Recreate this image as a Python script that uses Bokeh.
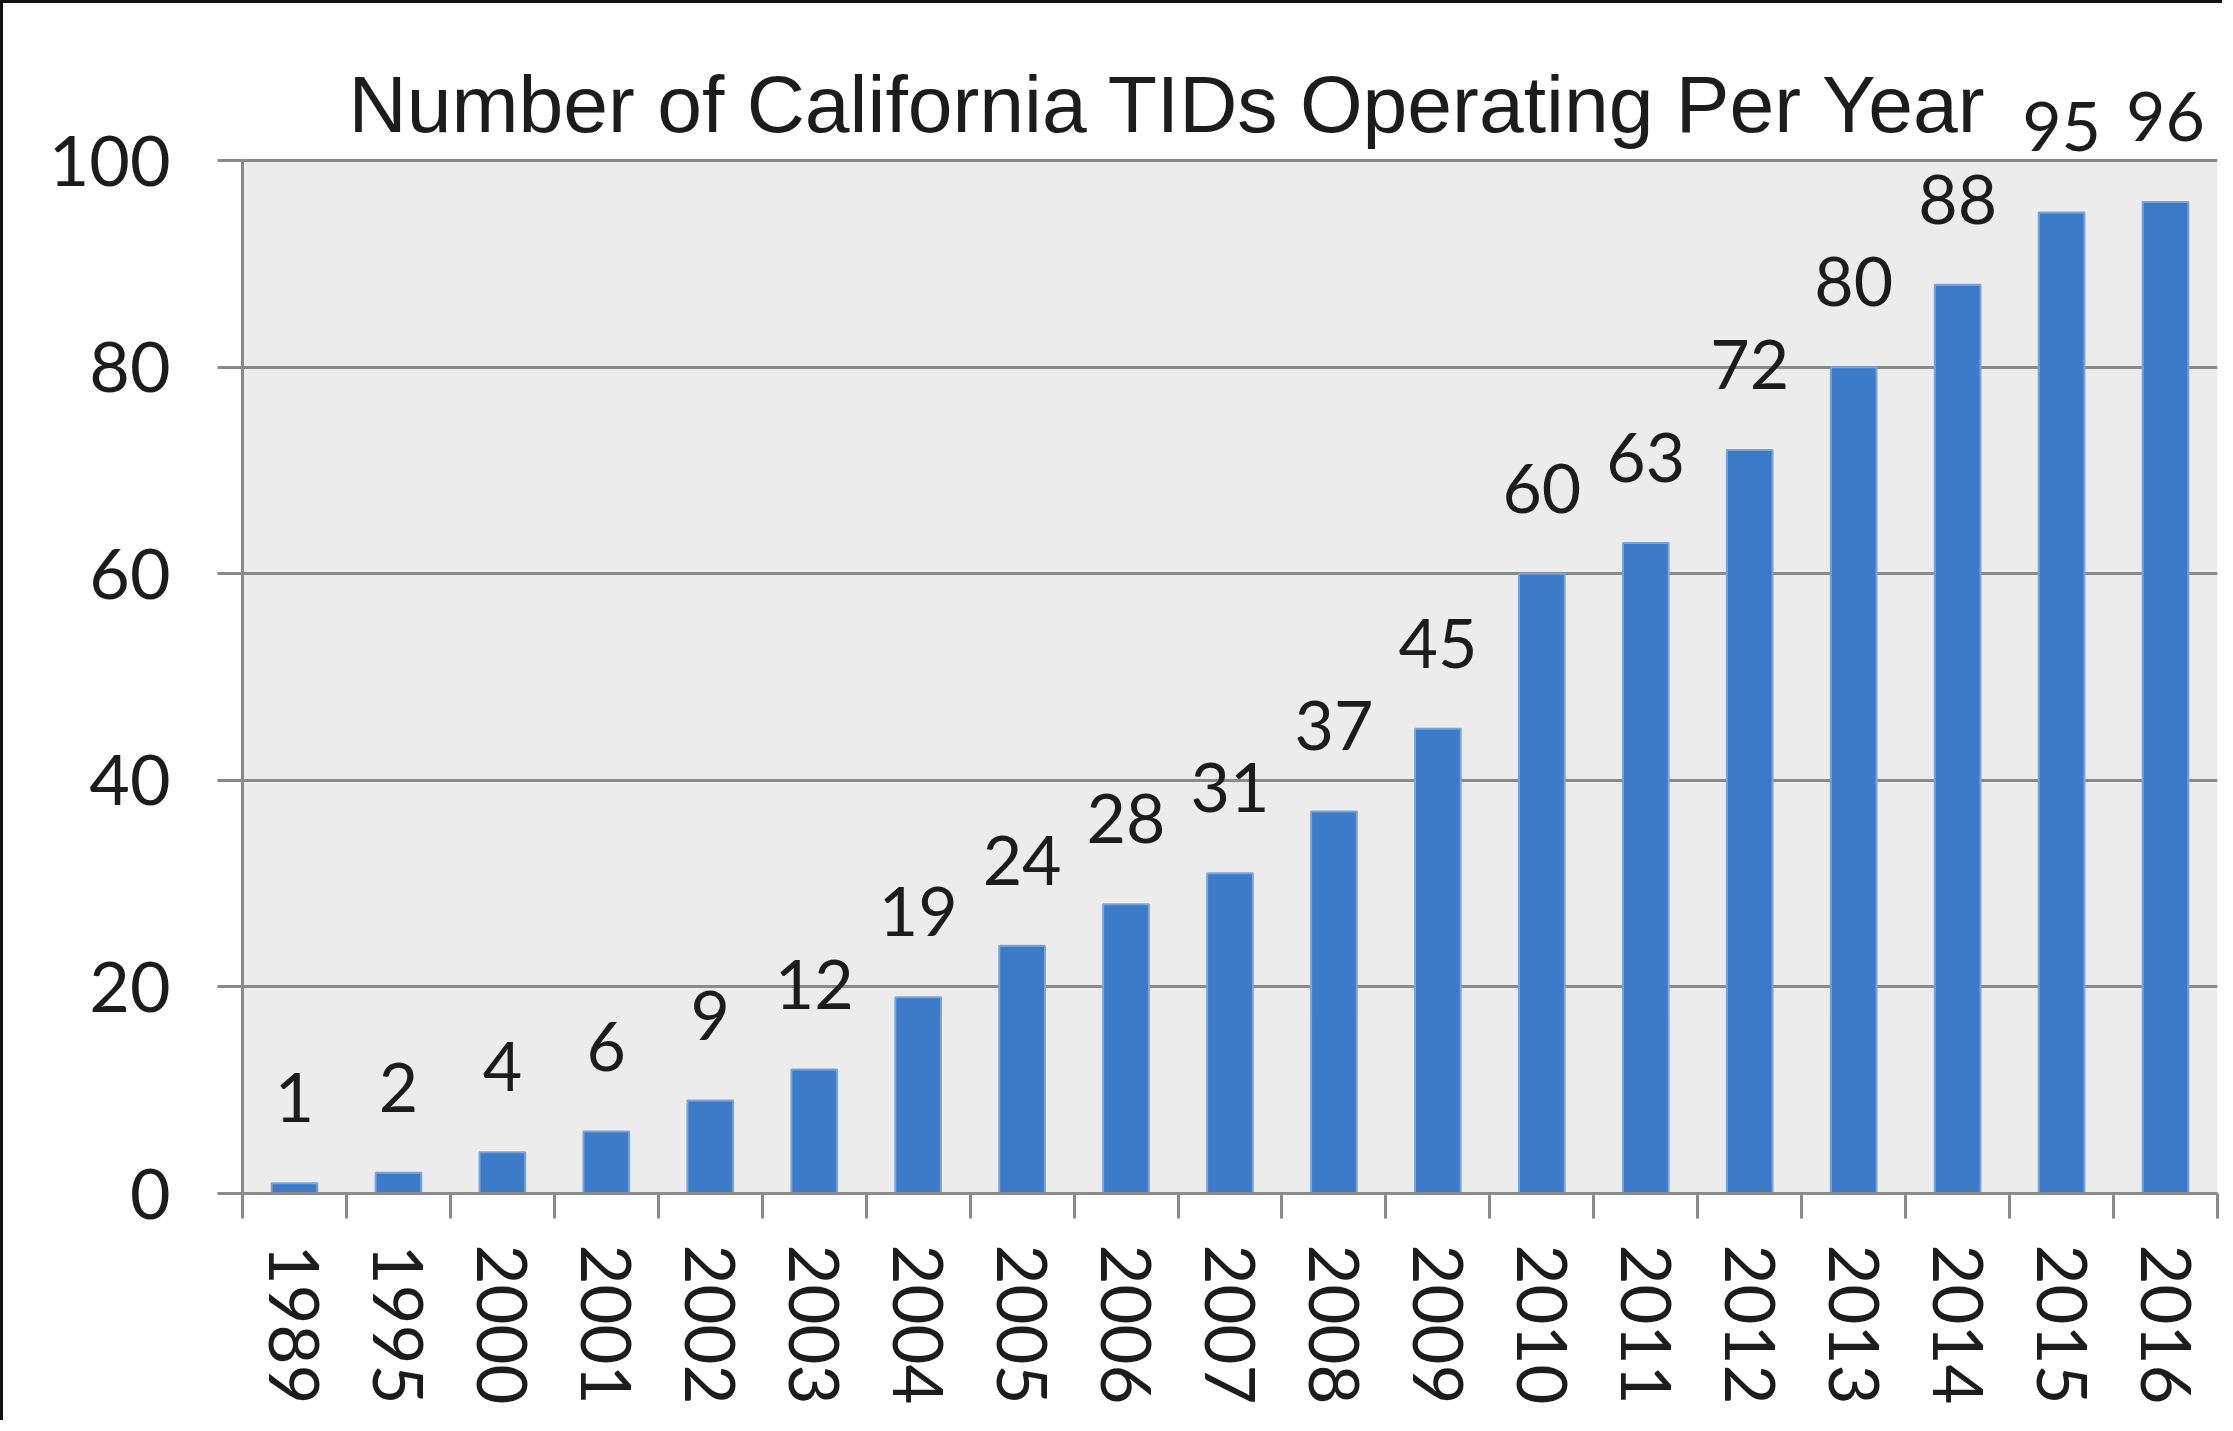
import math
from bokeh.plotting import figure
from bokeh.models import (Range1d, FixedTicker, LabelSet, Label, ColumnDataSource,
                          BoxAnnotation)
from bokeh.core.properties import value
from bokeh.embed import file_html
from bokeh.resources import INLINE

# ---- data ----
years = ["1989", "1995", "2000", "2001", "2002", "2003", "2004", "2005", "2006",
         "2007", "2008", "2009", "2010", "2011", "2012", "2013", "2014", "2015", "2016"]
counts = [1, 2, 4, 6, 9, 12, 19, 24, 28, 31, 37, 45, 60, 63, 72, 80, 88, 95, 96]
y_ticks = [0, 20, 40, 60, 80, 100]
title_text = "Number of California TIDs Operating Per Year"

n = len(years)
centers = list(range(n))
bounds = [i - 0.5 for i in range(n + 1)]
y_max = y_ticks[-1]

src = ColumnDataSource(dict(x=centers, top=counts, label=[str(c) for c in counts]))

GRAY = "#8A8A8A"
TXT = "#1c1c1c"
NUMFONT = "Lato"

p = figure(width=2222, height=1420,
           x_range=Range1d(-0.5, n - 0.5), y_range=Range1d(0, 110),
           output_backend="svg", toolbar_location=None,
           min_border_left=239, min_border_right=8,
           min_border_top=54, min_border_bottom=230)
p.styles = {"border-left": "3px solid #111", "border-top": "3px solid #111"}
p.background_fill_color = "white"
p.border_fill_color = "white"
p.outline_line_color = None

# grey plot area up to the top tick
p.add_layout(BoxAnnotation(bottom=0, top=y_max, fill_color="#ECECEC", fill_alpha=1.0,
                           line_color=None, level="image"))

p.vbar(x="x", top="top", width=0.44, source=src,
       fill_color="#3B7BC8", line_color="#7AA5DA", line_width=2)

# y axis
p.yaxis.ticker = FixedTicker(ticks=y_ticks)
p.yaxis.bounds = (0, y_max)
p.yaxis.major_tick_out = 25
p.yaxis.major_tick_in = 0
p.yaxis.minor_tick_line_color = None
p.yaxis.axis_line_color = GRAY
p.yaxis.axis_line_width = 3
p.yaxis.major_tick_line_color = GRAY
p.yaxis.major_tick_line_width = 3
p.yaxis.major_label_standoff = 47
p.yaxis.major_label_text_font = NUMFONT
p.yaxis.major_label_text_font_size = "70px"
p.yaxis.major_label_text_color = TXT

p.ygrid.ticker = FixedTicker(ticks=y_ticks)
p.ygrid.grid_line_color = GRAY
p.ygrid.grid_line_width = 3
p.xgrid.grid_line_color = None

# x axis: year labels at category centres, tick marks at category boundaries
xa = p.xaxis[0]
xa.ticker = FixedTicker(ticks=centers, minor_ticks=bounds)
xa.major_label_overrides = {c: y for c, y in zip(centers, years)}
xa.axis_line_color = GRAY
xa.axis_line_width = 3
xa.major_tick_line_color = None
xa.major_tick_out = 25
xa.major_tick_in = 0
xa.minor_tick_line_color = GRAY
xa.minor_tick_line_width = 3
xa.minor_tick_out = 25
xa.minor_tick_in = 0
xa.major_label_standoff = 26
xa.major_label_orientation = -math.pi / 2
xa.major_label_text_font = NUMFONT
xa.major_label_text_font_size = "69px"
xa.major_label_text_color = TXT

labels = LabelSet(x="x", y="top", text="label", source=src, y_offset=61,
                  text_align="center", text_baseline="alphabetic",
                  text_font=value(NUMFONT), text_font_size=value("68px"),
                  text_color=TXT)
p.add_layout(labels)

title = Label(x=0.52, y=105.5, text=title_text,
              text_font="Liberation Sans", text_font_size="80.5px",
              text_color=TXT, text_align="left", text_baseline="alphabetic")
p.add_layout(title)

open("out.html", "w").write(file_html(p, INLINE))
